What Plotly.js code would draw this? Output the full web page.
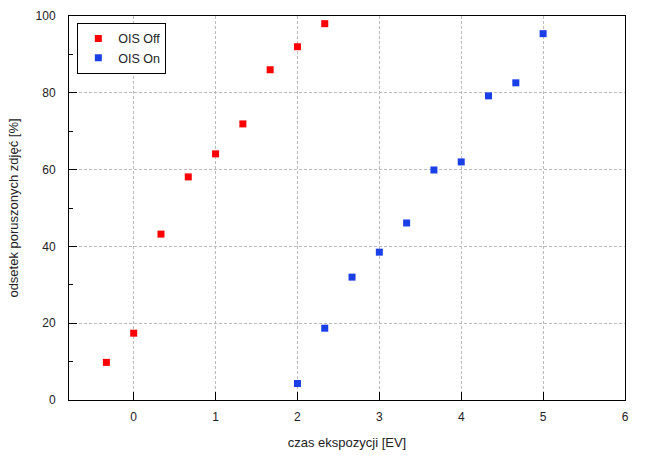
<!DOCTYPE html>
<html>
<head>
<meta charset="utf-8">
<script src="https://cdn.plot.ly/plotly-3.0.1.min.js"></script>
<style>
  html, body { margin: 0; padding: 0; background: #fff; }
  #chart { width: 650px; height: 455px; }
</style>
</head>
<body>
<div id="chart"></div>
<script>
// dane
const evOff = [-1/3, 0, 1/3, 2/3, 1, 4/3, 5/3, 2, 7/3];
const oisOff = [9.8, 17.4, 43.2, 58.1, 64.1, 71.9, 86.0, 92.0, 98.0];

const evOn = [2, 7/3, 8/3, 3, 10/3, 11/3, 4, 13/3, 14/3, 5];
const oisOn = [4.3, 18.7, 32.0, 38.5, 46.1, 59.9, 62.0, 79.2, 82.6, 95.4];

const seriesNames = ['OIS Off', 'OIS On'];
const xTicks = [0, 1, 2, 3, 4, 5, 6];
const yTicks = [0, 20, 40, 60, 80, 100];

const font = { family: 'Liberation Sans, Arial, sans-serif', size: 12, color: '#222' };
const titleFont = { ...font, size: 13 };

const traces = [
    {
        x: evOff, y: oisOff, name: seriesNames[0],
        type: 'scatter', mode: 'markers',
        marker: { symbol: 'square', size: 7, color: '#ff0000' }
    },
    {
        x: evOn, y: oisOn, name: seriesNames[1],
        type: 'scatter', mode: 'markers',
        marker: { symbol: 'square', size: 7, color: '#1b3fe6' }
    }
];

const gridStyle = { showgrid: true, gridcolor: '#bbbbbb', griddash: '3px,2px', gridwidth: 1 };

const layout = {
    width: 650,
    height: 455,
    margin: { l: 69, r: 25, t: 16, b: 55 },
    paper_bgcolor: '#fff',
    plot_bgcolor: '#fff',
    font: font,
    showlegend: true,
    legend: {
        x: 0.015, y: 0.982, xanchor: 'left', yanchor: 'top',
        bordercolor: '#000', borderwidth: 1, bgcolor: '#fff',
        font: { ...font, size: 12.5 }, tracegroupgap: 0
    },
    xaxis: {
        ...gridStyle,
        range: [-0.79, 6],
        tickvals: xTicks,
        ticks: 'inside', ticklen: 8, tickcolor: '#000',
        ticklabelstandoff: 6,
        zeroline: false,
        showline: true, linecolor: '#000', linewidth: 1, mirror: true,
        title: { text: 'czas ekspozycji [EV]', font: titleFont, standoff: 14 }
    },
    yaxis: {
        ...gridStyle,
        range: [0, 100],
        tickvals: yTicks,
        ticks: 'inside', ticklen: 8, tickcolor: '#000',
        ticklabelstandoff: 10,
        zeroline: false,
        showline: true, linecolor: '#000', linewidth: 1, mirror: true,
        minor: { dtick: 10, tick0: 0, ticks: 'inside', ticklen: 4, tickcolor: '#000', showgrid: false },
        title: { text: 'odsetek poruszonych zdjęć [%]', font: titleFont, standoff: 14 }
    }
};

Plotly.newPlot('chart', traces, layout, { displayModeBar: false, staticPlot: true });
</script>
</body>
</html>
